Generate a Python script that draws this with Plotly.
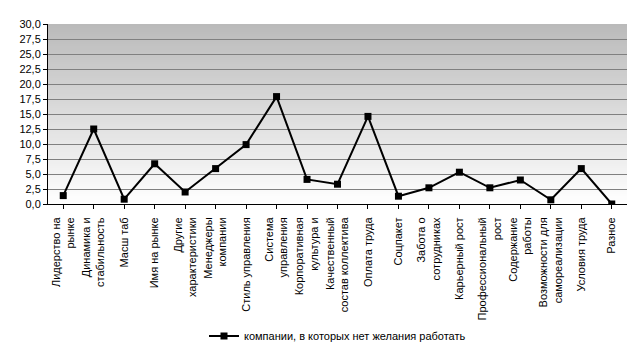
import plotly.graph_objects as go

categories = [
    "Лидерство на<br>рынке",
    "Динамика и<br>стабильность",
    "Масш таб",
    "Имя на рынке",
    "Другие<br>характеристики",
    "Менеджеры<br>компании",
    "Стиль управления",
    "Система<br>управления",
    "Корпоративная<br>культура и",
    "Качественный<br>состав коллектива",
    "Оплата труда",
    "Соцпакет",
    "Забота о<br>сотрудниках",
    "Карьерный рост",
    "Профессиональный<br>рост",
    "Содержание<br>работы",
    "Возможности для<br>самореализации",
    "Условия труда",
    "Разное",
]
values = [1.4, 12.5, 0.8, 6.7, 2.0, 5.9, 9.9, 17.9, 4.1, 3.3, 14.6, 1.3, 2.7, 5.3, 2.7, 4.0, 0.7, 5.9, 0.0]
series_name = "компании, в которых нет желания работать"
y_ticks = [0, 2.5, 5, 7.5, 10, 12.5, 15, 17.5, 20, 22.5, 25, 27.5, 30]

FONT = "Liberation Sans, Arial, sans-serif"

fig = go.Figure()
fig.add_trace(go.Scatter(
    x=list(range(len(categories))), y=values, mode="lines+markers", name=series_name,
    line=dict(color="black", width=2),
    marker=dict(symbol="square", size=7, color="black"),
))

# vertical gradient background (gray top -> white bottom)
n = 90
shapes = []
for i in range(n):
    t = i / (n - 1)  # 0 bottom, 1 top
    c = int(round(255 - (255 - 186) * t))
    shapes.append(dict(type="rect", xref="x domain", yref="y domain",
                       x0=0, x1=1, y0=i / n, y1=(i + 1) / n,
                       fillcolor=f"rgb({c},{c},{c})", line=dict(width=0), layer="below"))

fig.update_layout(
    width=641, height=354,
    margin=dict(l=48, r=14, t=24, b=150, autoexpand=False),
    paper_bgcolor="white", plot_bgcolor="white",
    separators=", ",
    font=dict(family=FONT, size=11, color="black"),
    shapes=shapes,
    showlegend=True,
    legend=dict(orientation="h", x=0.5, xanchor="center",
                yref="container", y=1 - 336 / 354, yanchor="middle",
                font=dict(size=11), bgcolor="rgba(0,0,0,0)"),
    xaxis=dict(
        tickmode="array", tickvals=list(range(len(categories))), ticktext=categories,
        range=[-0.5, len(categories) - 0.5], tickangle=-90, automargin=False,
        showline=True, linecolor="black", linewidth=1,
        ticks="outside", ticklen=4, tickcolor="black", tickson="boundaries",
        ticklabelstandoff=4,
        showgrid=False, zeroline=False, tickfont=dict(size=11),
    ),
    yaxis=dict(
        range=[0, 30], tickvals=y_ticks, tickformat=".1f", automargin=False,
        showline=True, linecolor="black", linewidth=1,
        ticks="outside", ticklen=4, tickcolor="black",
        showgrid=True, gridcolor="#808080", gridwidth=1, zeroline=False,
        tickfont=dict(size=11),
    ),
)
fig.write_html("out.html")
